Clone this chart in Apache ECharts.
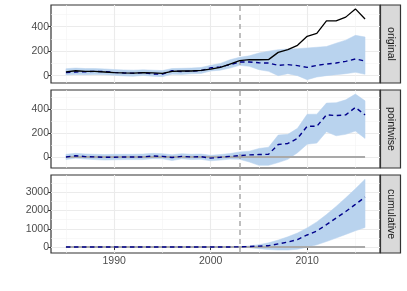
<!DOCTYPE html>
<html>
<head>
<meta charset="utf-8">
<script src="https://cdn.jsdelivr.net/npm/echarts@6/dist/echarts.min.js"></script>
<style>html,body{margin:0;padding:0;background:#fff;}#c{width:407px;height:291px;}</style>
</head>
<body>
<div id="c"></div>
<script>
const years = [1985,1986,1987,1988,1989,1990,1991,1992,1993,1994,1995,1996,1997,1998,1999,2000,2001,2002,2003,2004,2005,2006,2007,2008,2009,2010,2011,2012,2013,2014,2015,2016];
const interventionYear = 2003;
const panelNames = ['original', 'pointwise', 'cumulative'];

// original panel
const observed = [30,40,35,35,30,25,22,20,25,22,18,35,38,38,43,54,68,95,122,131,130,131,190,212,248,321,345,447,447,478,545,463];
const predMean = [25,30,32,35,33,27,22,20,25,14,13,40,33,38,41,64,71,90,112,112,105,103,84,90,82,68,84,95,103,117,136,120];
const predLower = [5,10,8,10,8,3,-2,-5,2,-5,-8,12,10,15,18,38,45,62,84,76,49,35,0,16,0,-33,-11,0,8,16,27,11];
const predUpper = [57,62,58,58,55,50,47,45,48,45,42,58,60,62,67,84,100,130,150,162,185,200,212,218,220,226,232,238,265,290,329,316];

// pointwise panel
const pointMean = [0,10,3,0,-3,-2,0,0,0,8,5,-5,5,0,2,-10,-3,5,11,17,20,22,104,112,154,255,255,350,344,350,412,350];
const pointLower = [-22,-10,-18,-22,-26,-24,-22,-22,-22,-14,-16,-30,-16,-22,-20,-32,-26,-18,-20,-42,-70,-70,-47,-20,35,106,115,210,176,188,215,154];
const pointUpper = [22,30,25,22,20,22,22,22,24,30,27,18,27,22,24,14,20,28,42,48,70,81,182,188,238,355,356,448,451,475,523,467];

// cumulative panel
const cumMean = [0,0,0,0,0,0,0,0,0,0,0,0,0,0,0,0,0,0,10,28,50,72,170,270,410,660,880,1230,1590,1950,2340,2740];
const cumLower = [0,0,0,0,0,0,0,0,0,0,0,0,0,0,0,0,0,0,-10,-40,-90,-140,-170,-170,-120,-20,120,300,490,690,890,1070];
const cumUpper = [0,0,0,0,0,0,0,0,0,0,0,0,0,0,0,0,0,0,15,60,130,230,380,560,770,1050,1380,1780,2230,2700,3200,3720];

// axis ticks
const xMajorTicks = [1990, 2000, 2010];
const xMinorTicks = [1985, 1995, 2005, 2015];
const yMajorTicks = [[0,200,400],[0,200,400],[0,1000,2000,3000]];
const yMinorTicks = [[100,300,500],[100,300,500],[500,1500,2500,3500]];
const yLimits = [[-60,577],[-92,557],[-330,3956]];
const xLimits = [1983.45, 2017.55];

const FONT = 'Liberation Sans, Arial, sans-serif';
const BAND = '#B9D3EE';
const pairs = arr => years.map((y, i) => [y, arr[i]]);
const plain = v => String(v);

const panelData = [
  {mean: predMean, lower: predLower, upper: predUpper, obs: observed, base: false},
  {mean: pointMean, lower: pointLower, upper: pointUpper, obs: null, base: true},
  {mean: cumMean, lower: cumLower, upper: cumUpper, obs: null, base: true}
];

const gridTops = [5, 90, 175];
const gridH = 78;
const grids = [], xAxes = [], yAxes = [], series = [], graphics = [];

panelData.forEach((p, i) => {
  grids.push({left: 51, width: 329, top: gridTops[i], height: gridH, show: true,
    backgroundColor: '#fff', borderColor: '#333333', borderWidth: 1.2, containLabel: false});
  const isBottom = i === 2;
  xAxes.push({gridIndex: i, type: 'value', min: xLimits[0], max: xLimits[1],
    axisLine: {show: false},
    axisTick: {show: isBottom, length: 3, customValues: xMajorTicks, lineStyle: {color: '#333', width: 1}},
    axisLabel: {show: isBottom, customValues: xMajorTicks, formatter: plain, margin: 3, color: '#4d4d4d', fontSize: 10.5, fontFamily: FONT},
    splitLine: {show: true, lineStyle: {color: '#ebebeb', width: 1.1}}});
  xAxes.push({gridIndex: i, type: 'value', min: xLimits[0], max: xLimits[1],
    axisLine: {show: false}, axisTick: {show: false, customValues: xMinorTicks},
    axisLabel: {show: false, customValues: xMinorTicks},
    splitLine: {show: true, lineStyle: {color: '#f3f3f3', width: 0.6}}});
  yAxes.push({gridIndex: i, type: 'value', min: yLimits[i][0], max: yLimits[i][1],
    axisLine: {show: false},
    axisTick: {show: true, length: 3, customValues: yMajorTicks[i], lineStyle: {color: '#333', width: 1}},
    axisLabel: {show: true, customValues: yMajorTicks[i], formatter: plain, margin: 2, color: '#4d4d4d', fontSize: 10.5, fontFamily: FONT},
    splitLine: {show: true, lineStyle: {color: '#ebebeb', width: 1.1}}});
  yAxes.push({gridIndex: i, type: 'value', min: yLimits[i][0], max: yLimits[i][1],
    axisLine: {show: false}, axisTick: {show: false, customValues: yMinorTicks[i]},
    axisLabel: {show: false, customValues: yMinorTicks[i]},
    splitLine: {show: true, lineStyle: {color: '#f3f3f3', width: 0.6}}});

  const xi = 2 * i, yi = 2 * i;
  // ribbon: one polygon through the axis scales
  series.push({type: 'custom', xAxisIndex: xi, yAxisIndex: yi, silent: true, z: 2,
    data: years.map((y, k) => [y, p.lower[k], p.upper[k]]),
    encode: {x: 0, y: [1, 2]},
    renderItem: (params, api) => {
      if (params.dataIndex !== 0) return null;
      const top = years.map((y, k) => api.coord([y, p.upper[k]]));
      const bot = years.map((y, k) => api.coord([y, p.lower[k]])).reverse();
      return {type: 'polygon', shape: {points: top.concat(bot)},
        style: {fill: BAND, stroke: BAND, lineWidth: 0.5}};
    },
    markLine: {silent: true, symbol: ['none', 'none'], label: {show: false}, z: 3,
      lineStyle: {color: '#a9a9a9', type: [5, 4], width: 1.5},
      data: [{xAxis: interventionYear}]}});
  if (p.base) {
    series.push({type: 'line', xAxisIndex: xi, yAxisIndex: yi, data: [], z: 4,
      markLine: {silent: true, symbol: ['none', 'none'], label: {show: false}, z: 4,
        lineStyle: {color: '#a9a9a9', type: 'solid', width: 1.8},
        data: [[{coord: [years[0], 0]}, {coord: [years[years.length - 1], 0]}]]}});
  }
  series.push({type: 'line', xAxisIndex: xi, yAxisIndex: yi, data: pairs(p.mean), symbol: 'none', silent: true,
    lineStyle: {color: '#00008B', width: 1.4, type: [4.5, 3.5]}, z: 6});
  if (p.obs) {
    series.push({type: 'line', xAxisIndex: xi, yAxisIndex: yi, data: pairs(p.obs), symbol: 'none', silent: true,
      lineStyle: {color: '#000', width: 1.3}, z: 7});
  }
  graphics.push({type: 'rect', shape: {x: 380.5, y: gridTops[i], width: 20, height: gridH},
    style: {fill: '#d9d9d9', stroke: '#333333', lineWidth: 1.2}, silent: true});
  graphics.push({type: 'text', x: 391, y: gridTops[i] + gridH / 2, rotation: -Math.PI / 2,
    style: {text: panelNames[i], fill: '#1a1a1a', font: '10.5px ' + FONT, textAlign: 'center', textVerticalAlign: 'middle'}, silent: true});
});

const chart = echarts.init(document.getElementById('c'), null, {renderer: 'canvas'});
chart.setOption({
  animation: false,
  backgroundColor: '#fff',
  grid: grids, xAxis: xAxes, yAxis: yAxes, series: series, graphic: graphics
});
</script>
</body>
</html>
